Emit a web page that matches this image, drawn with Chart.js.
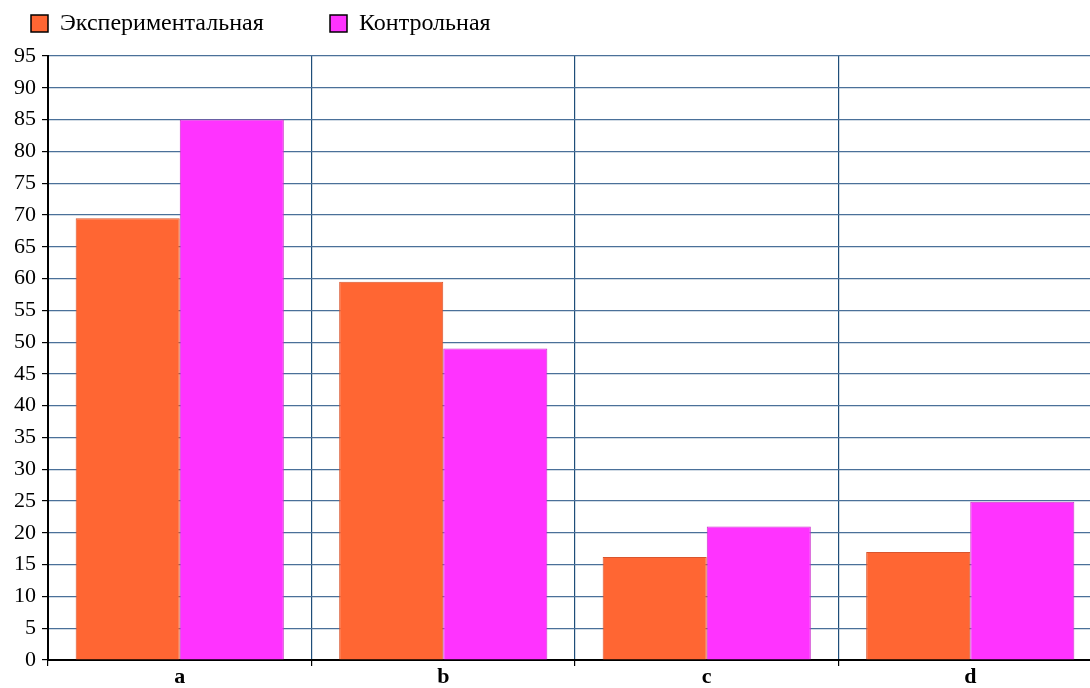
<!DOCTYPE html>
<html>
<head>
<meta charset="utf-8">
<script src="https://cdn.jsdelivr.net/npm/chart.js@4.4.1/dist/chart.umd.min.js"></script>
<style>
  html, body { margin: 0; padding: 0; background: #fff; overflow: hidden; }
  #wrap { position: relative; width: 1102px; height: 688px; }
</style>
</head>
<body>
<div id="wrap"><canvas id="chart"></canvas></div>
<script>
// Chart data
const categories = ["a", "b", "c", "d"];
const seriesNames = ["Экспериментальная", "Контрольная"];
const experimental = [69.5, 59.5, 16.2, 17];
const control = [85, 49, 21, 24.9];
const yTicks = [0, 95, 5]; // min, max, step

const FONT = "'Liberation Serif', 'Times New Roman', serif";

// simple legend drawn above the plot, like the original
const topLegend = {
  id: "topLegend",
  afterDraw(chart, args, opts) {
    const ctx = chart.ctx;
    ctx.save();
    ctx.font = "24px " + FONT;
    ctx.textBaseline = "middle";
    chart.data.datasets.forEach((ds, i) => {
      const x = opts.xs[i];
      ctx.fillStyle = ds.backgroundColor;
      ctx.fillRect(x, 15, 17, 17);
      ctx.strokeStyle = "#000";
      ctx.lineWidth = 1.5;
      ctx.strokeRect(x, 15, 17, 17);
      ctx.fillStyle = "#000";
      ctx.fillText(ds.label, x + 29, 24);
    });
    ctx.restore();
  }
};

new Chart(document.getElementById("chart"), {
  type: "bar",
  data: {
    labels: categories,
    datasets: [
      { label: seriesNames[0], data: experimental, backgroundColor: "#FF6633", borderColor: "#D9552E", borderWidth: 1 },
      { label: seriesNames[1], data: control, backgroundColor: "#FF33FF", borderColor: "#CC33CC", borderWidth: 1 }
    ]
  },
  options: {
    responsive: true,
    maintainAspectRatio: false,
    animation: false,
    categoryPercentage: 0.79,
    barPercentage: 1,
    layout: { padding: { top: 56, left: 8, right: 0, bottom: 0 } },
    plugins: {
      legend: { display: false },
      tooltip: { enabled: false },
      topLegend: { xs: [31, 330] }
    },
    scales: {
      x: {
        grid: { color: "#1F4E79", lineWidth: 1.2, tickLength: 6, tickColor: "#000", offset: true },
        border: { color: "#000", width: 2 },
        ticks: { color: "#000", padding: 0, font: { family: FONT, size: 22, weight: "bold", lineHeight: 1 } }
      },
      y: {
        min: yTicks[0],
        max: yTicks[1],
        ticks: { stepSize: yTicks[2], color: "#000", padding: 6, font: { family: FONT, size: 22 } },
        grid: { color: "#4A7099", lineWidth: 1.2, tickLength: 6, tickColor: "#000" },
        border: { color: "#000", width: 2 }
      }
    }
  },
  plugins: [topLegend]
});
</script>
</body>
</html>
